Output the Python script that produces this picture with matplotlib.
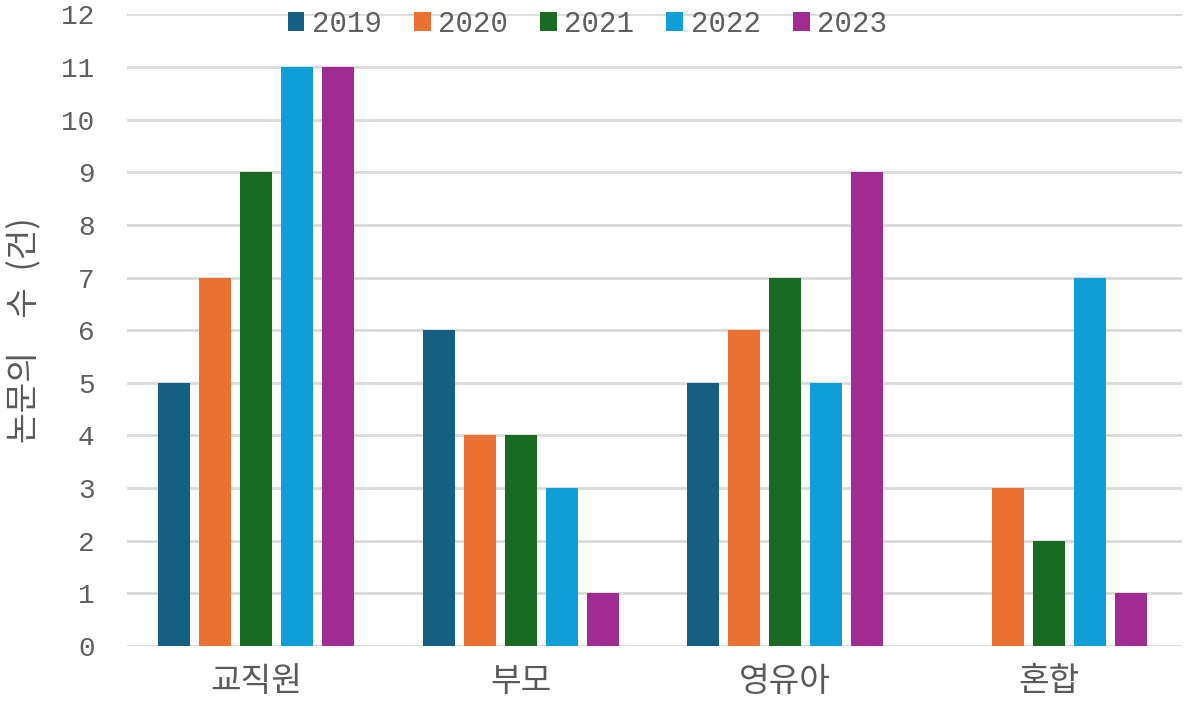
import numpy as np
import matplotlib.pyplot as plt

plt.rcParams['font.family'] = ['Noto Sans CJK KR', 'DejaVu Sans']

# data
categories = ['교직원', '부모', '영유아', '혼합']
years = ['2019', '2020', '2021', '2022', '2023']
values = {
    '2019': [5, 6, 5, 0],
    '2020': [7, 4, 6, 3],
    '2021': [9, 4, 7, 2],
    '2022': [11, 3, 5, 7],
    '2023': [11, 1, 9, 1],
}
colors = ['#156082', '#E97132', '#196B24', '#0F9ED5', '#A02B93']
yticks = list(range(0, 13))

TEXT = '#595959'
NUM = '#5f5f5f'
GRID = '#D9D9D9'
MONO = ['Liberation Mono', 'DejaVu Sans Mono']

fig = plt.figure(figsize=(11.84, 7.15), dpi=100)
ax = fig.add_axes([0.107, 0.0965, 0.891, 0.8835])

x = np.arange(len(categories))
step = 0.155
width = 0.121
for i, yr in enumerate(years):
    offset = (i - 2) * step
    ax.bar(x + offset, values[yr], width=width, color=colors[i], label=yr, zorder=3)

ax.set_xlim(-0.49, len(categories) - 0.5)
ax.set_ylim(0, 12)
ax.set_yticks(yticks)
ax.set_yticklabels([str(t) for t in yticks], fontsize=20, color=NUM, family=MONO)
ax.set_xticks(x)
ax.set_xticklabels(categories, fontsize=24, color=TEXT)
ax.tick_params(axis='both', length=0)
ax.tick_params(axis='y', pad=23)
ax.tick_params(axis='x', pad=13)

for s in ax.spines.values():
    s.set_visible(False)
ax.yaxis.grid(True, color=GRID, linewidth=2, zorder=0)
ax.set_axisbelow(True)

ax.set_ylabel('논문의\u3000수\u2002(건)', fontsize=24, color=TEXT, labelpad=14)

leg = fig.legend(loc='upper center', bbox_to_anchor=(0.496, 1.023), ncol=5, frameon=False,
                 prop={'family': MONO, 'size': 21}, handlelength=0.58, handleheight=0.58,
                 handletextpad=0.25, columnspacing=1.1, labelcolor=NUM)

plt.savefig('out.png', dpi=100)
